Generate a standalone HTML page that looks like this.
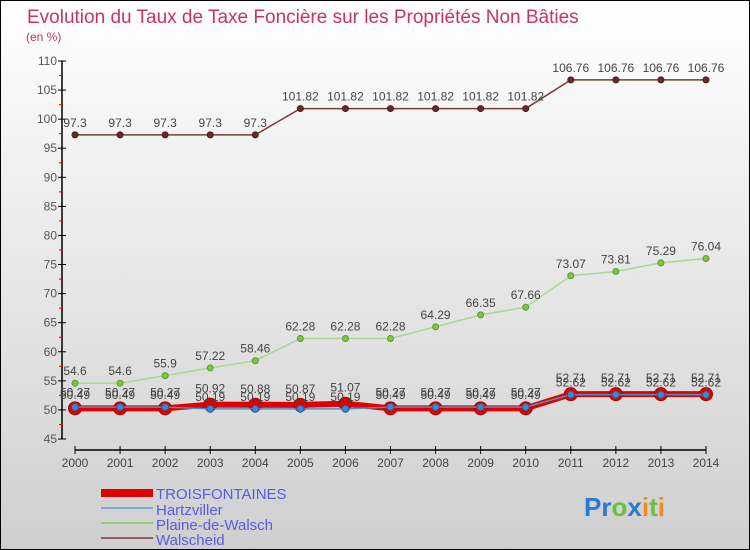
<!DOCTYPE html>
<html><head><meta charset="utf-8"><style>
body{margin:0}
#c{width:750px;height:550px;position:relative;box-sizing:border-box;border:1px solid #000;background:linear-gradient(#ffffff,#cfcfcf);font-family:"Liberation Sans",sans-serif;overflow:hidden}
</style></head><body>
<div id="c">
<svg id="s" width="748" height="548" xmlns="http://www.w3.org/2000/svg">
<text x="26" y="22" font-size="19" fill="#c8326a">Evolution du Taux de Taxe Foncière sur les Propriétés Non Bâties</text>
<text x="25" y="40" font-size="12" fill="#c8326a">(en %)</text>
<g id="axes"></g><g id="series"></g>
<g>
<rect x="100" y="488" width="52" height="8" fill="#e00000"/>
<text x="155" y="498" font-size="15" fill="#5a5ae6">TROISFONTAINES</text>
<line x1="100" y1="507" x2="152" y2="507" stroke="#7aaccf" stroke-width="2"/>
<text x="155" y="514" font-size="15" fill="#5a5ae6">Hartzviller</text>
<line x1="100" y1="522" x2="152" y2="522" stroke="#9acd80" stroke-width="2"/>
<text x="155" y="529" font-size="15" fill="#5a5ae6">Plaine-de-Walsch</text>
<line x1="100" y1="537" x2="152" y2="537" stroke="#8b6060" stroke-width="2"/>
<text x="155" y="544" font-size="15" fill="#5a5ae6">Walscheid</text>
</g>
<text x="583" y="515" font-size="26" font-weight="bold"><tspan fill="#2a7ad0">Pr</tspan><tspan fill="#6cc040">o</tspan><tspan fill="#2a7ad0">x</tspan><tspan fill="#f08a20">i</tspan><tspan fill="#6cc040">t</tspan><tspan fill="#f08a20">i</tspan></text>
</svg></div>
<script>
const years=["2000","2001","2002","2003","2004","2005","2006","2007","2008","2009","2010","2011","2012","2013","2014"];
const yTicks=[45,50,55,60,65,70,75,80,85,90,95,100,105,110];
const troisfontaines=[50.27,50.27,50.27,50.92,50.88,50.87,51.07,50.27,50.27,50.27,50.27,52.71,52.71,52.71,52.71];
const hartzviller=[50.49,50.49,50.49,50.19,50.19,50.19,50.19,50.49,50.49,50.49,50.49,52.62,52.62,52.62,52.62];
const plaine=[54.6,54.6,55.9,57.22,58.46,62.28,62.28,62.28,64.29,66.35,67.66,73.07,73.81,75.29,76.04];
const walscheid=[97.3,97.3,97.3,97.3,97.3,101.82,101.82,101.82,101.82,101.82,101.82,106.76,106.76,106.76,106.76];
const NS="http://www.w3.org/2000/svg";
const X=i=>74+i*(705-74)/(years.length-1);
const Y=v=>438-(v-45)*(378/65);
function mk(t,a,p){const e=document.createElementNS(NS,t);for(const k in a)e.setAttribute(k,a[k]);p.appendChild(e);return e;}
const ax=document.getElementById('axes');
let l=mk('line',{x1:61,y1:Y(110),x2:61,y2:Y(45),stroke:'#000','stroke-width':1.5},ax);


yTicks.forEach(v=>{
 mk('line',{x1:57,y1:Y(v),x2:65,y2:Y(v),stroke:'#000'},ax);
 if(v<110)mk('line',{x1:58,y1:Y(v+2.5),x2:62,y2:Y(v+2.5),stroke:'#e00000'},ax);
 const t=mk('text',{x:56,y:Y(v)+4,'font-size':12,fill:'#555','text-anchor':'end'},ax);t.textContent=v;
 
 
});
mk('line',{x1:X(0),y1:449,x2:X(years.length-1),y2:449,stroke:'#000','stroke-width':1.5},ax);
years.forEach((y,i)=>{
 mk('line',{x1:X(i),y1:445,x2:X(i),y2:453,stroke:'#000'},ax);
 const t=mk('text',{x:X(i),y:466,'font-size':12,fill:'#444','text-anchor':'middle'},ax);t.textContent=y;
 
 
});
const sg=document.getElementById('series');
function series(name,vals,col,w,dot,dotStroke,r,labelDy){
 const g=mk('g',{},sg);
 
 
 mk('polyline',{points:vals.map((v,i)=>X(i)+','+Y(v)).join(' '),fill:'none',stroke:col,'stroke-width':w},g);
 vals.forEach((v,i)=>{
  const c=mk('circle',{cx:X(i),cy:Y(v),r:r,fill:dot,stroke:dotStroke,'stroke-width':1},g);
  
  
  const t=mk('text',{x:X(i),y:Y(v)+labelDy,'font-size':12,fill:'#444','text-anchor':'middle'},g);t.textContent=v;
  
  
 });
}
series('walscheid',walscheid,'#7a3a3a',1.5,'#6a2a2a','#4a1a1a',3,-8);
series('plaine-de-walsch',plaine,'#a8d890',1.5,'#7ac840','#5a9a30',3,-8);
series('troisfontaines',troisfontaines,'#e00000',6,'#e00000','#b00000',6.5,-12);
series('hartzviller',hartzviller,'#4a90c8',1.5,'#3a8ad0','#2a5a90',3.5,-8);
</script>
</body></html>
